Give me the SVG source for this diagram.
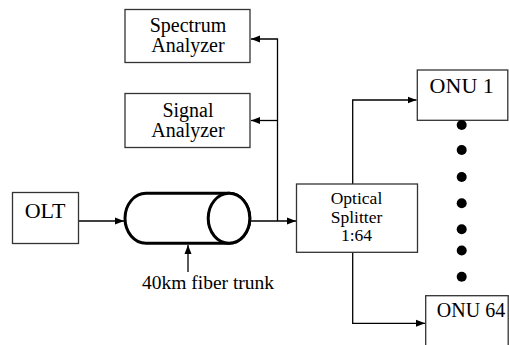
<svg xmlns="http://www.w3.org/2000/svg" width="509" height="345" viewBox="0 0 509 345">
<style>
.box{fill:#fff;stroke:#333;stroke-width:1.3}
.t{font-family:"Liberation Serif","Times New Roman",serif;fill:#000;text-anchor:middle}
.ln{fill:none;stroke:#000;stroke-width:1.3}
.tube{fill:#fff;stroke:#000;stroke-width:3}
</style>
<defs>
<marker id="ah" markerUnits="userSpaceOnUse" markerWidth="10" markerHeight="8" refX="9" refY="4" orient="auto">
<path d="M0,0.5 L9,4 L0,7.5 Z" fill="#000"/>
</marker>
</defs>
<rect width="509" height="345" fill="#fff"/>
<g id="connectors">
<path class="ln" d="M78.7,221 H124" marker-end="url(#ah)"/>
<path class="ln" d="M250.7,221 H296" marker-end="url(#ah)"/>
<path class="ln" d="M277.5,221 V39 H251" marker-end="url(#ah)"/>
<path class="ln" d="M277.5,120.5 H251" marker-end="url(#ah)"/>
<path class="ln" d="M352.7,184 V100 H416.5" marker-end="url(#ah)"/>
<path class="ln" d="M352.7,252.3 V323.3 H425" marker-end="url(#ah)"/>
<path class="ln" d="M188,272 V245" marker-end="url(#ah)"/>
</g>
<g id="spectrum">
<rect class="box" x="125" y="9.5" width="125" height="53"/>
<text class="t" font-size="20" x="188" y="32.3">Spectrum</text>
<text class="t" font-size="20" x="188" y="52.3">Analyzer</text>
</g>
<g id="signal">
<rect class="box" x="125" y="93.5" width="125" height="54"/>
<text class="t" font-size="20" x="188" y="116.7">Signal</text>
<text class="t" font-size="20" x="188" y="136.7">Analyzer</text>
</g>
<g id="olt">
<rect class="box" x="12.5" y="192.5" width="66" height="51"/>
<text class="t" font-size="22" x="45" y="217.7">OLT</text>
</g>
<g id="fiber">
<path class="tube" d="M146,193.3 H229 A20.8,25 0 0 1 229,243.3 H146 A21,25 0 0 1 146,193.3 Z"/>
<ellipse class="tube" cx="229" cy="218.3" rx="20.8" ry="25"/>
<text class="t" font-size="19.5" x="208" y="289.3">40km fiber trunk</text>
</g>
<g id="splitter">
<rect class="box" x="296.5" y="184" width="121" height="68.3"/>
<text class="t" font-size="17.5" x="356.5" y="204">Optical</text>
<text class="t" font-size="17.5" x="356.5" y="222.5">Splitter</text>
<text class="t" font-size="17.5" x="356.5" y="240.7">1:64</text>
</g>
<g id="onu1">
<rect class="box" x="417.3" y="70" width="90.5" height="50.3"/>
<text class="t" font-size="22" x="461.7" y="93.3">ONU 1</text>
</g>
<g id="dots" fill="#000">
<circle cx="461.7" cy="125" r="5"/>
<circle cx="461.7" cy="150" r="5"/>
<circle cx="461.7" cy="177" r="5"/>
<circle cx="461.7" cy="203.3" r="5"/>
<circle cx="461.7" cy="229.3" r="5"/>
<circle cx="461.7" cy="250.5" r="5"/>
<circle cx="461.7" cy="276.7" r="5"/>
</g>
<g id="onu64">
<rect class="box" x="425.7" y="295.7" width="82.5" height="60"/>
<text class="t" font-size="20" x="471" y="316.7">ONU 64</text>
</g>
</svg>
